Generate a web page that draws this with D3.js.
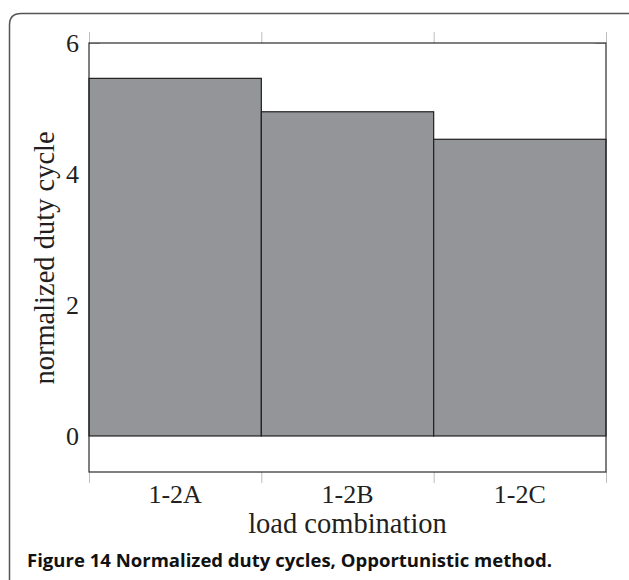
<!DOCTYPE html>
<html>
<head>
<meta charset="utf-8">
<script src="https://cdn.jsdelivr.net/npm/d3@7"></script>
<style>
  html, body { margin: 0; padding: 0; background: #fff; }
  svg { display: block; }
</style>
</head>
<body>
<svg id="chart" width="629" height="580"></svg>
<script>
const categories = ["1-2A", "1-2B", "1-2C"];
const values = [5.46, 4.95, 4.53];
const yTicks = [0, 2, 4, 6];
const xTitle = "load combination";
const yTitle = "normalized duty cycle";
const caption = "Figure 14 Normalized duty cycles, Opportunistic method.";

const svg = d3.select("#chart");
const W = 629, H = 580;
const plot = { left: 89, right: 606, top: 43, bottom: 472 };

// outer figure frame (top + left, rounded corner)
svg.append("path")
  .attr("d", `M9.5,${H} L9.5,25 Q9.5,13.5 21,13.5 L${W},13.5`)
  .attr("fill", "none").attr("stroke", "#555").attr("stroke-width", 1.5);

const x = d3.scaleBand().domain(categories).range([plot.left, plot.right]).padding(0);
const y = d3.scaleLinear().domain([-0.55, 6]).range([plot.bottom, plot.top]);

const serif = "'Liberation Serif', 'DejaVu Serif', serif";
const tickColor = "#bdbdbd";

// bars
svg.append("g").selectAll("rect").data(values).join("rect")
  .attr("x", (d, i) => x(categories[i]))
  .attr("width", x.bandwidth())
  .attr("y", d => y(Math.max(d, 0)))
  .attr("height", d => Math.abs(y(d) - y(0)))
  .attr("fill", "#939598")
  .attr("stroke", "#231f20").attr("stroke-width", 1.2);

// y ticks (inner, both sides)
const yAxisL = d3.axisLeft(y).tickValues(yTicks).tickSize(-11).tickFormat("");
const yAxisR = d3.axisRight(y).tickValues(yTicks).tickSize(-11).tickFormat("");
const gL = svg.append("g").attr("transform", `translate(${plot.left},0)`).call(yAxisL);
const gR = svg.append("g").attr("transform", `translate(${plot.right},0)`).call(yAxisR);
[gL, gR].forEach(g => {
  g.select(".domain").remove();
  g.selectAll(".tick line").attr("stroke", tickColor);
  g.selectAll(".tick").filter(d => d < 5).remove();
});

// y tick labels
svg.append("g").selectAll("text").data(yTicks).join("text")
  .attr("x", 79).attr("y", d => y(d) + 9)
  .attr("text-anchor", "end")
  .attr("font-family", serif).attr("font-size", 26).attr("fill", "#231f20")
  .text(d => d);

// x ticks at category boundaries (outside, top and bottom)
const xb = d3.scaleLinear().domain([0, categories.length]).range([plot.left, plot.right]);
const xAxisB = d3.axisBottom(xb).tickValues(d3.range(categories.length + 1)).tickSize(11).tickFormat("");
const xAxisT = d3.axisTop(xb).tickValues(d3.range(categories.length + 1)).tickSize(11).tickFormat("");
const gB = svg.append("g").attr("transform", `translate(0,${plot.bottom})`).call(xAxisB);
const gT = svg.append("g").attr("transform", `translate(0,${plot.top})`).call(xAxisT);
[gB, gT].forEach(g => {
  g.select(".domain").remove();
  g.selectAll(".tick line").attr("stroke", tickColor);
});

// plot frame
svg.append("rect")
  .attr("x", plot.left).attr("y", plot.top)
  .attr("width", plot.right - plot.left).attr("height", plot.bottom - plot.top)
  .attr("fill", "none").attr("stroke", "#2b2b2b").attr("stroke-width", 1.2);

// x tick labels
svg.append("g").selectAll("text").data(categories).join("text")
  .attr("x", d => x(d) + x.bandwidth() / 2).attr("y", 503)
  .attr("text-anchor", "middle")
  .attr("font-family", serif).attr("font-size", 26).attr("fill", "#231f20")
  .text(d => d);

// axis titles
svg.append("text")
  .attr("x", (plot.left + plot.right) / 2).attr("y", 533)
  .attr("text-anchor", "middle")
  .attr("font-family", serif).attr("font-size", 28.5).attr("fill", "#231f20")
  .text(xTitle);

svg.append("text")
  .attr("transform", `translate(54,258) rotate(-90)`)
  .attr("text-anchor", "middle")
  .attr("font-family", serif).attr("font-size", 28.5).attr("fill", "#231f20")
  .text(yTitle);

// caption
svg.append("text")
  .attr("x", 27).attr("y", 567)
  .attr("font-family", "'Open Sans', 'Noto Sans', sans-serif")
  .attr("font-weight", "bold").attr("font-size", 18).attr("fill", "#111")
  .attr("textLength", 525).attr("lengthAdjust", "spacingAndGlyphs")
  .text(caption);
</script>
</body>
</html>
